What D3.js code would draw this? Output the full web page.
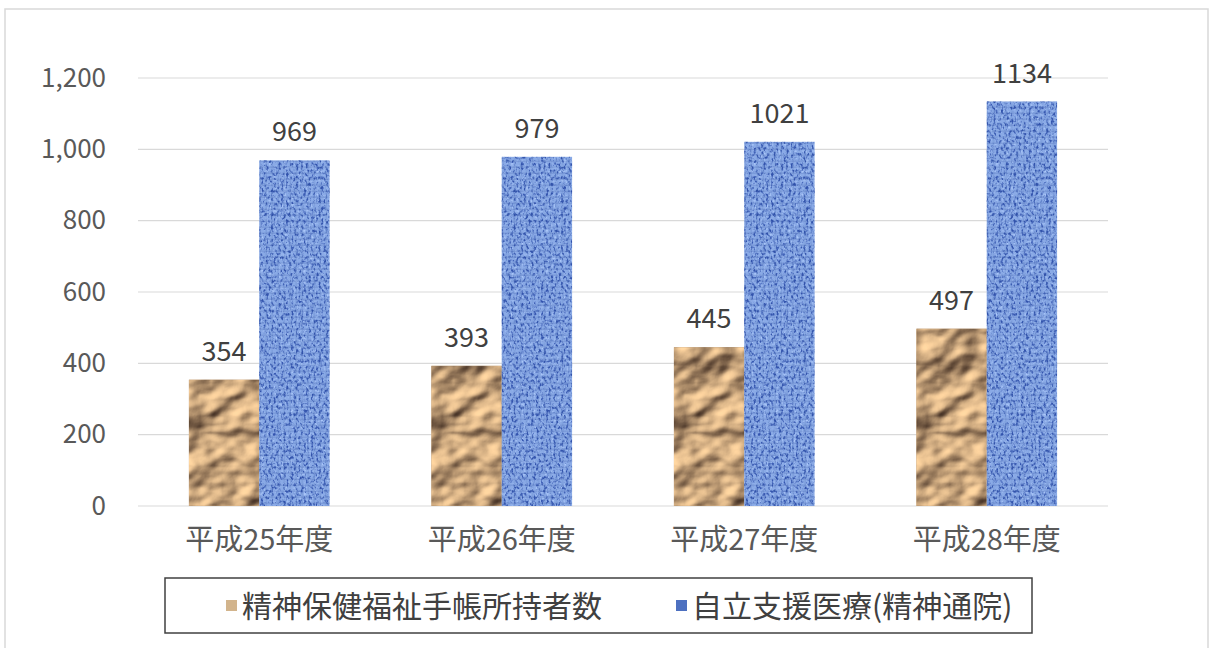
<!DOCTYPE html>
<html><head><meta charset="utf-8">
<script src="https://cdn.jsdelivr.net/npm/d3@7"></script>
<style>html,body{margin:0;padding:0;background:#fff;}svg{display:block;}</style>
</head><body>
<svg id="c" width="1215" height="648"></svg>
<script>
const categories = ["平成25年度","平成26年度","平成27年度","平成28年度"];
const seriesNames = ["精神保健福祉手帳所持者数","自立支援医療(精神通院)"];
const handbook = [354, 393, 445, 497];
const medical = [969, 979, 1021, 1134];
const yTicks = [0, 200, 400, 600, 800, 1000, 1200];

const svg = d3.select("#c");
const font = "'Noto Sans CJK JP','Noto Sans',sans-serif";
const defs = svg.append("defs");

// brown rocky texture
const fb = defs.append("filter").attr("id","rock").attr("x","0").attr("y","0").attr("width","1").attr("height","1")
  .attr("color-interpolation-filters","sRGB");
fb.append("feTurbulence").attr("type","fractalNoise").attr("baseFrequency","0.022 0.03").attr("numOctaves",3).attr("seed",5).attr("result","n");
const dl = fb.append("feDiffuseLighting").attr("in","n").attr("surfaceScale",8).attr("lighting-color","#ffffff").attr("result","l");
dl.append("feDistantLight").attr("azimuth",225).attr("elevation",46);
fb.append("feColorMatrix").attr("in","l").attr("type","matrix")
  .attr("values","1.0 0 0 0 0.05  0.88 0 0 0 0.0  0.66 0 0 0 0  0 0 0 0 1").attr("result","c");
fb.append("feComposite").attr("in","c").attr("in2","SourceGraphic").attr("operator","in");

// blue woven texture
const fw = defs.append("filter").attr("id","weave").attr("x","0").attr("y","0").attr("width","1").attr("height","1")
  .attr("color-interpolation-filters","sRGB");
fw.append("feTurbulence").attr("type","fractalNoise").attr("baseFrequency","0.4 0.3").attr("numOctaves",2).attr("seed",3).attr("result","n");
fw.append("feColorMatrix").attr("in","n").attr("type","matrix")
  .attr("values","0 0 0 0 0.2  0 0 0 0 0.33  0 0 0 0 0.68  3.6 0 0 0 -1.75").attr("result","dark");
fw.append("feColorMatrix").attr("in","n").attr("type","matrix")
  .attr("values","0 0 0 0 0.68  0 0 0 0 0.79  0 0 0 0 0.98  0 -3.4 0 0 1.55").attr("result","light");
fw.append("feMerge").call(m=>{m.append("feMergeNode").attr("in","light");m.append("feMergeNode").attr("in","dark");}).attr("result","mix");
fw.append("feComposite").attr("in","mix").attr("in2","SourceGraphic").attr("operator","in");

const pat = defs.append("pattern").attr("id","grid").attr("patternUnits","userSpaceOnUse").attr("width",6).attr("height",6);
pat.append("rect").attr("x",0).attr("y",4.5).attr("width",6).attr("height",1.4).attr("fill","#2c4f9e").attr("opacity",0.18);
pat.append("rect").attr("x",4.5).attr("y",0).attr("width",1.4).attr("height",6).attr("fill","#2c4f9e").attr("opacity",0.14);

// outer frame
svg.append("rect").attr("x",5).attr("y",9).attr("width",1203).attr("height",700)
  .attr("fill","#fff").attr("stroke","#d9d9d9").attr("stroke-width",1.5);

const x0 = d3.scaleBand().domain(categories).range([138,1108]).paddingInner(0.42).paddingOuter(0.21);
const x1 = d3.scaleBand().domain(seriesNames).range([0, x0.bandwidth()]).padding(0);
const y = d3.scaleLinear().domain([0,1200]).range([506,78]);

// gridlines
svg.append("g").selectAll("line").data(yTicks).join("line")
  .attr("x1",138).attr("x2",1108).attr("y1",d=>y(d)).attr("y2",d=>y(d))
  .attr("stroke","#d9d9d9").attr("stroke-width",1.2);

// y axis labels
const yAxis = d3.axisLeft(y).tickValues(yTicks).tickFormat(d3.format(",")).tickSize(0).tickPadding(0);
const ga = svg.append("g").attr("transform","translate(106,0)").call(yAxis);
ga.select(".domain").remove();
ga.selectAll("text").attr("font-family",font).attr("font-size",26).attr("fill","#595959");

// x axis labels
const xAxis = d3.axisBottom(x0).tickSize(0).tickPadding(0);
const gx = svg.append("g").attr("transform","translate(0,528)").call(xAxis);
gx.select(".domain").remove();
gx.selectAll("text").attr("font-family",font).attr("font-size",29).attr("fill","#595959").attr("dy","0.75em");

const data = categories.map((c,i)=>({c, vals:[{s:seriesNames[0],v:handbook[i]},{s:seriesNames[1],v:medical[i]}]}));
const groups = svg.append("g").selectAll("g").data(data).join("g").attr("transform",d=>`translate(${x0(d.c)},0)`);

groups.each(function(d){
  const g = d3.select(this);
  const b = d.vals[0];
  g.append("rect").attr("x",x1(b.s)).attr("y",y(b.v)).attr("width",x1.bandwidth()).attr("height",y(0)-y(b.v))
    .attr("fill","#b8966e");
  g.append("rect").attr("x",x1(b.s)).attr("y",y(b.v)).attr("width",x1.bandwidth()).attr("height",y(0)-y(b.v))
    .attr("fill","#b8966e").attr("filter","url(#rock)");
  const m = d.vals[1];
  g.append("rect").attr("x",x1(m.s)).attr("y",y(m.v)).attr("width",x1.bandwidth()).attr("height",y(0)-y(m.v))
    .attr("fill","#8aaae6");
  g.append("rect").attr("x",x1(m.s)).attr("y",y(m.v)).attr("width",x1.bandwidth()).attr("height",y(0)-y(m.v))
    .attr("fill","#8aaae6").attr("filter","url(#weave)");
  g.append("rect").attr("x",x1(m.s)).attr("y",y(m.v)).attr("width",x1.bandwidth()).attr("height",y(0)-y(m.v))
    .attr("fill","url(#grid)");
  g.selectAll("text.v").data(d.vals).join("text").attr("class","v")
    .attr("x",v=>x1(v.s)+x1.bandwidth()/2).attr("y",v=>y(v.v)-19)
    .attr("text-anchor","middle").attr("font-family",font).attr("font-size",27).attr("fill","#404040")
    .text(v=>v.v);
});

// legend
svg.append("rect").attr("x",165).attr("y",578).attr("width",867).attr("height",55)
  .attr("fill","#fff").attr("stroke","#404040").attr("stroke-width",1.5);
const leg = [{name:seriesNames[0], x:226, fill:"#d2b48c"},{name:seriesNames[1], x:676, fill:"#4d70c0"}];
leg.forEach(l=>{
  svg.append("rect").attr("x",l.x).attr("y",600).attr("width",11).attr("height",11).attr("fill",l.fill);
  svg.append("text").attr("x",l.x+16).attr("y",606).attr("dy","0.36em").attr("font-family",font)
    .attr("font-size",30).attr("fill","#404040").text(l.name);
});
</script>
</body></html>
